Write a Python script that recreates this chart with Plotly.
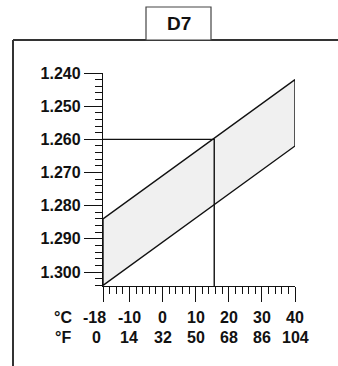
import plotly.graph_objects as go

# Electrolyte specific gravity vs. temperature band (chart D7)
temp_c = [-18, 40]                 # band end temperatures, °C
sg_band_top = [1.284, 1.242]       # upper edge of band (lower SG reading)
sg_band_bottom = [1.304, 1.262]    # lower edge of band
ref_temp_c = 15.6                  # reference temperature (60 °F)
ref_sg = 1.260                     # reference specific gravity

c_ticks = [-18, -10, 0, 10, 20, 30, 40]
c_labels = ["-18", "-10", "0", "10", "20", "30", "40"]
f_labels = ["0", "14", "32", "50", "68", "86", "104"]
c_minor = [-16, -14, -12, -8, -6, -4, -2, 2, 4, 6, 8, 12, 14, 16, 18,
           22, 24, 26, 28, 32, 34, 36, 38]

sg_ticks = [1.240, 1.250, 1.260, 1.270, 1.280, 1.290, 1.300]
sg_labels = ["1.240", "1.250", "1.260", "1.270", "1.280", "1.290", "1.300"]
sg_minor = [round(1.240 + 0.002 * i, 3) for i in range(33) if i % 5 != 0]
sg_axis_max = 1.3042

W, H = 338, 366
FONT = dict(family="Liberation Sans, Arial, sans-serif", size=16,
            color="#111", weight="bold")

fig = go.Figure()

# shaded band (closed polygon)
fig.add_trace(go.Scatter(
    x=[temp_c[0], temp_c[1], temp_c[1], temp_c[0], temp_c[0]],
    y=[sg_band_top[0], sg_band_top[1], sg_band_bottom[1],
       sg_band_bottom[0], sg_band_top[0]],
    mode="lines", fill="toself", fillcolor="#f0f0f0",
    line=dict(color="#111", width=1.4), hoverinfo="skip", showlegend=False,
))

# reference reading lines
fig.add_trace(go.Scatter(
    x=[temp_c[0], ref_temp_c, ref_temp_c],
    y=[ref_sg, ref_sg, sg_axis_max],
    mode="lines", line=dict(color="#111", width=1.4),
    hoverinfo="skip", showlegend=False,
))

x0, x1 = 103 / W, 295 / W
y0, y1 = (H - 286) / H, (H - 73) / H

fig.update_xaxes(
    domain=[x0, x1], range=[temp_c[0], temp_c[1]], automargin=False,
    showgrid=False, zeroline=False, showline=True, linecolor="#111",
    linewidth=1.4, ticks="outside", ticklen=15, tickwidth=1.4,
    tickcolor="#111", tickmode="array", tickvals=c_ticks,
    showticklabels=False,
    minor=dict(tickmode="array", tickvals=c_minor, ticks="outside",
               ticklen=7, tickwidth=1.2, tickcolor="#111", showgrid=False),
)
fig.update_yaxes(
    domain=[y0, y1], range=[sg_axis_max, 1.240], automargin=False,
    showgrid=False, zeroline=False, showline=True, linecolor="#111",
    linewidth=1.4, ticks="outside", ticklen=18, tickwidth=1.4,
    tickcolor="#111", tickmode="array", tickvals=sg_ticks,
    ticktext=sg_labels, tickfont=FONT,
    minor=dict(tickmode="array", tickvals=sg_minor, ticks="outside",
               ticklen=7, tickwidth=1.2, tickcolor="#111", showgrid=False),
)

annotations = []
# temperature scale labels (°C and °F rows)
for row_y, unit, labels, first_shift in [(317, "°C", c_labels, -9),
                                         (337, "°F", f_labels, -7)]:
    annotations.append(dict(
        x=63 / W, y=(H - row_y) / H, xref="paper", yref="paper",
        text=unit, showarrow=False, font=FONT,
        xanchor="center", yanchor="middle"))
    for i, (tv, lab) in enumerate(zip(c_ticks, labels)):
        annotations.append(dict(
            x=tv, y=(H - row_y) / H, xref="x", yref="paper",
            text=lab, showarrow=False, font=FONT,
            xanchor="center", yanchor="middle",
            xshift=first_shift if i == 0 else 0))

# title tab
annotations.append(dict(
    x=178.5 / W, y=(H - 24) / H, xref="paper", yref="paper",
    text="D7", showarrow=False,
    font=dict(family="Liberation Sans, Arial, sans-serif", size=19,
              color="#111", weight="bold"),
    xanchor="center", yanchor="middle"))

shapes = [
    # outer frame (top and left edges)
    dict(type="line", xref="paper", yref="paper",
         x0=13 / W, y0=(H - 40) / H, x1=1.0, y1=(H - 40) / H,
         line=dict(color="#333", width=2)),
    dict(type="line", xref="paper", yref="paper",
         x0=13 / W, y0=(H - 40) / H, x1=13 / W, y1=0,
         line=dict(color="#333", width=2)),
    # title box
    dict(type="rect", xref="paper", yref="paper",
         x0=146 / W, y0=(H - 40) / H, x1=211 / W, y1=(H - 7) / H,
         line=dict(color="#444", width=1.2), fillcolor="white"),
]

fig.update_layout(
    template="none",
    width=W, height=H, margin=dict(l=0, r=0, t=0, b=0, pad=0),
    paper_bgcolor="white", plot_bgcolor="white",
    annotations=annotations, shapes=shapes, showlegend=False,
)

fig.write_html(
    "out.html", config={"displayModeBar": False},
    post_script="document.body.style.margin='0';"
                "document.body.style.overflow='hidden';",
)
